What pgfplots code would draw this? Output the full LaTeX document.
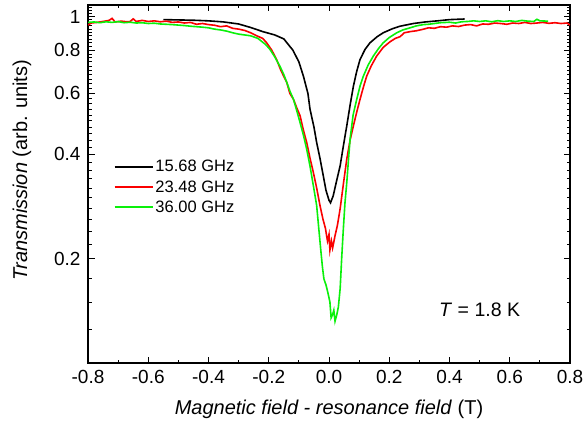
\documentclass[border=0pt]{standalone}
\usepackage{fontspec}
\setmainfont{Liberation Sans}
\usepackage{pgfplots}
\pgfplotsset{compat=1.18}
\definecolor{lgreen}{RGB}{10,240,10}
\definecolor{lred}{RGB}{250,0,0}
\begin{document}
\begin{tikzpicture}
\useasboundingbox (0,0) rectangle (585pt,430pt);
\begin{axis}[
  at={(88pt,67pt)}, anchor=south west,
  scale only axis, width=482pt, height=358pt,
  xmin=-0.8, xmax=0.8, ymode=log, ymin=0.1, ymax=1.08,
  xtick={-0.8,-0.6,-0.4,-0.2,0,0.2,0.4,0.6,0.8},
  minor xtick={-0.7,-0.5,-0.3,-0.1,0.1,0.3,0.5,0.7},
  ytick={0.2,0.4,0.6,0.8,1}, yticklabels={0.2,0.4,0.6,0.8,1},
  minor ytick={0.125,0.15,0.175,0.22,0.24,0.26,0.28,0.3,0.32,0.34,0.36,0.38,0.42,0.44,0.46,0.48,0.5,0.52,0.54,0.56,0.58,0.62,0.64,0.66,0.68,0.7,0.72,0.74,0.76,0.78,0.82,0.84,0.86,0.88,0.9,0.92,0.94,0.96,0.98,1.02,1.04,1.06},
  tick align=inside,
  major tick length=6.5pt, minor tick length=3.5pt,
  every tick/.style={black, line width=0.9pt},
  axis line style={line width=1.2pt},
  tick label style={font=\fontsize{19}{22}\selectfont},
  xticklabel style={/pgf/number format/fixed, /pgf/number format/fixed zerofill, /pgf/number format/precision=1, /pgf/number format/assume math mode=true, yshift=-4pt},
  yticklabel style={xshift=-4pt},
  label style={font=\fontsize{20}{24}\selectfont},
  xlabel={\textit{Magnetic field - resonance field} (T)},
  ylabel={\textit{Transmission} (arb. units)},
  xlabel style={at={(axis description cs:0.5,-0.13)}, anchor=center},
  ylabel style={at={(axis description cs:-0.137,0.539)}, anchor=center},
  legend style={draw=none, fill=none, at={(axis description cs:0.047,0.578)}, anchor=north west, font=\fontsize{16.5}{19}\selectfont, row sep=3.2pt},
  legend cell align=left,
  legend image code/.code={\draw[#1] (0pt,0pt) -- (38pt,0pt);},
  clip=true,
]
\addplot[black, line width=1.6pt] coordinates {
(-0.55,0.980) (-0.50,0.978) (-0.45,0.976) (-0.40,0.972) (-0.35,0.965) (-0.30,0.952)
(-0.26,0.930) (-0.22,0.905) (-0.18,0.885) (-0.15,0.862) (-0.12,0.800) (-0.10,0.740)
(-0.085,0.673) (-0.07,0.600) (-0.063,0.540) (-0.05,0.480) (-0.041,0.433) (-0.03,0.390)
(-0.019,0.347) (-0.01,0.315) (0.0,0.295) (0.005,0.290) (0.014,0.304) (0.025,0.335)
(0.037,0.371) (0.048,0.425) (0.059,0.484) (0.07,0.555) (0.081,0.630) (0.092,0.695)
(0.103,0.752) (0.12,0.805) (0.136,0.840) (0.16,0.875) (0.18,0.898) (0.21,0.922)
(0.236,0.938) (0.28,0.955) (0.32,0.965) (0.36,0.972) (0.40,0.980) (0.45,0.984)
};
\addlegendentry{15.68 GHz}
\addplot[lred, line width=1.6pt] coordinates {
(-0.80,0.945) (-0.79,0.958) (-0.77,0.962) (-0.75,0.968) (-0.73,0.975) (-0.72,0.988)
(-0.71,0.965) (-0.69,0.970) (-0.67,0.966) (-0.66,0.968) (-0.65,0.985) (-0.64,0.968)
(-0.62,0.975) (-0.60,0.968) (-0.58,0.972) (-0.56,0.966) (-0.54,0.970) (-0.52,0.962)
(-0.50,0.965) (-0.48,0.958) (-0.46,0.962) (-0.44,0.950) (-0.42,0.955) (-0.40,0.948)
(-0.38,0.944) (-0.36,0.935) (-0.34,0.940) (-0.32,0.925) (-0.30,0.920) (-0.28,0.912)
(-0.26,0.898) (-0.24,0.880) (-0.22,0.865) (-0.207,0.840) (-0.19,0.800) (-0.174,0.752)
(-0.16,0.700) (-0.14,0.645) (-0.13,0.600) (-0.118,0.577) (-0.107,0.545) (-0.096,0.517)
(-0.085,0.470) (-0.074,0.433) (-0.063,0.390) (-0.052,0.355) (-0.041,0.320) (-0.030,0.285)
(-0.02,0.260) (-0.012,0.245) (-0.005,0.225) (0.0,0.235) (0.003,0.212) (0.008,0.225)
(0.012,0.215) (0.02,0.233) (0.028,0.250) (0.037,0.279) (0.048,0.330) (0.059,0.388)
(0.07,0.440) (0.081,0.484) (0.092,0.530) (0.103,0.577) (0.114,0.625) (0.125,0.673)
(0.14,0.720) (0.158,0.769) (0.18,0.815) (0.202,0.845) (0.22,0.865) (0.236,0.875)
(0.25,0.898) (0.27,0.905) (0.29,0.910) (0.31,0.918) (0.33,0.928) (0.35,0.925)
(0.37,0.935) (0.39,0.932) (0.41,0.940) (0.43,0.936) (0.45,0.945) (0.47,0.948)
(0.49,0.940) (0.51,0.952) (0.53,0.950) (0.55,0.958) (0.57,0.955) (0.59,0.950)
(0.61,0.958) (0.63,0.955) (0.65,0.962) (0.67,0.955) (0.69,0.958) (0.71,0.962)
(0.73,0.956) (0.75,0.960) (0.77,0.955) (0.79,0.958) (0.80,0.945)
};
\addlegendentry{23.48 GHz}
\addplot[lgreen, line width=1.6pt] coordinates {
(-0.80,0.962) (-0.78,0.965) (-0.76,0.960) (-0.74,0.966) (-0.72,0.962) (-0.70,0.967)
(-0.68,0.960) (-0.66,0.963) (-0.64,0.958) (-0.62,0.960) (-0.60,0.955) (-0.58,0.957)
(-0.56,0.952) (-0.54,0.950) (-0.52,0.948) (-0.50,0.945) (-0.48,0.942) (-0.46,0.938)
(-0.44,0.935) (-0.42,0.932) (-0.40,0.928) (-0.38,0.920) (-0.36,0.915) (-0.34,0.908)
(-0.32,0.898) (-0.30,0.890) (-0.26,0.880) (-0.236,0.865) (-0.21,0.830) (-0.196,0.804)
(-0.18,0.765) (-0.163,0.719) (-0.15,0.680) (-0.14,0.645) (-0.13,0.610) (-0.118,0.577)
(-0.107,0.535) (-0.096,0.494) (-0.085,0.455) (-0.074,0.414) (-0.063,0.370) (-0.052,0.325)
(-0.041,0.285) (-0.035,0.250) (-0.028,0.215) (-0.022,0.190) (-0.017,0.175) (-0.01,0.168)
(-0.004,0.160) (0.003,0.150) (0.007,0.135) (0.012,0.138) (0.016,0.142) (0.020,0.132)
(0.026,0.138) (0.031,0.145) (0.037,0.164) (0.042,0.200) (0.047,0.239) (0.053,0.290)
(0.059,0.332) (0.065,0.390) (0.070,0.443) (0.08,0.520) (0.092,0.577) (0.103,0.630)
(0.114,0.673) (0.13,0.725) (0.147,0.769) (0.165,0.810) (0.18,0.840) (0.20,0.870)
(0.225,0.898) (0.245,0.915) (0.269,0.928) (0.29,0.940) (0.313,0.948) (0.33,0.950)
(0.35,0.955) (0.37,0.960) (0.40,0.963) (0.42,0.958) (0.44,0.966) (0.46,0.968)
(0.48,0.972) (0.50,0.968) (0.52,0.972) (0.54,0.966) (0.56,0.973) (0.58,0.968)
(0.60,0.972) (0.62,0.968) (0.64,0.975) (0.66,0.970) (0.68,0.968) (0.69,0.982)
(0.70,0.972) (0.727,0.970)
};
\addlegendentry{36.00 GHz}
\node[font=\fontsize{19.5}{23}\selectfont] at (axis cs:0.5,0.142) {\textit{T} = 1.8 K};
\end{axis}
\end{tikzpicture}
\end{document}
